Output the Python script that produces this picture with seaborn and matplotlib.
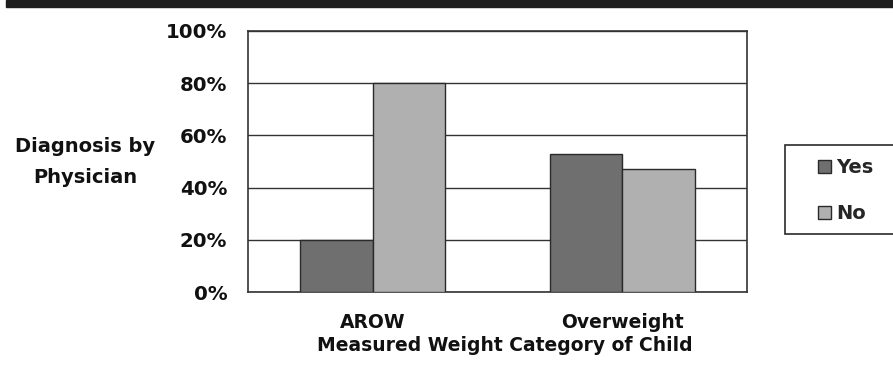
import matplotlib
matplotlib.use("Agg")
import matplotlib.pyplot as plt
import matplotlib.patches as mpatches
from matplotlib.ticker import PercentFormatter
import seaborn as sns
import pandas as pd

# data
categories = ["AROW", "Overweight"]
yes_values = [20, 53]
no_values = [80, 47]
series_names = ["Yes", "No"]

df = pd.DataFrame({
    "category": categories * 2,
    "answer": [series_names[0]] * 2 + [series_names[1]] * 2,
    "value": yes_values + no_values,
})

sns.set_style("white")
plt.rcParams["font.family"] = ["DejaVu Sans"]
plt.rcParams["font.weight"] = "bold"

fig = plt.figure(figsize=(8.93, 3.66), dpi=100)
W, H = 893, 366
ax = fig.add_axes([248 / W, 1 - 292 / H, (747 - 248) / W, (292 - 31) / H])

# black rule across the top of the page
fig.patches.append(mpatches.Rectangle((6 / W, 1 - 7 / H), 1, 7 / H,
                                      transform=fig.transFigure,
                                      color="#1e1e1e", zorder=5))

sns.barplot(data=df, x="category", y="value", hue="answer", ax=ax,
            palette=["#6f6f6f", "#b0b0b0"], width=0.58, gap=0,
            edgecolor="#2a2a2a", linewidth=1.0, saturation=1, zorder=3,
            legend=False)

ax.set_ylim(0, 100)
ax.set_xlim(-0.5, 1.5)
ax.set_yticks(range(0, 101, 20))
ax.yaxis.set_major_formatter(PercentFormatter(decimals=0))
ax.yaxis.grid(True, color="#333333", linewidth=1.0, zorder=0)
ax.set_axisbelow(True)

for s in ax.spines.values():
    s.set_color("#333333")
    s.set_linewidth(1.2)

ax.tick_params(axis="y", which="major", direction="out", length=6,
               color="#333333", labelsize=14.2, pad=9, labelcolor="#111111")
ax.set_xticks([0, 1])
ax.set_xticks([-0.5, 0.5, 1.5], minor=True)
ax.tick_params(axis="x", which="major", length=0, labelsize=13.5, pad=15,
               labelcolor="#111111")
ax.tick_params(axis="x", which="minor", direction="out", length=6,
               color="#333333")

ax.set_xlabel("Measured Weight Category of Child", fontsize=13.5,
              color="#111111", labelpad=3, fontweight="bold")
ax.xaxis.label.set_x((505 - 248) / (747 - 248))
ax.set_ylabel("")
fig.text(85 / W, 1 - 162 / H, "Diagnosis by\nPhysician", ha="center",
         va="center", fontsize=14, linespacing=1.85, color="#111111")

# legend with its own frame running off the right edge
fig.patches.append(mpatches.Rectangle((785 / W, 1 - 234 / H), 0.2, 89 / H,
                                      transform=fig.transFigure,
                                      facecolor="white", edgecolor="#2a2a2a",
                                      linewidth=1.2, zorder=2))
handles = [mpatches.Patch(facecolor=c, edgecolor="#2a2a2a", label=n)
           for c, n in zip(["#6f6f6f", "#b0b0b0"], series_names)]
leg = fig.legend(handles=handles, loc="upper left",
                 bbox_to_anchor=(818 / W, 1 - 158 / H), frameon=False,
                 borderpad=0, borderaxespad=0,
                 handlelength=0.65, handleheight=0.65, handletextpad=0.3,
                 labelspacing=1.4, prop={"size": 14, "weight": "bold"})
leg.set_zorder(6)

fig.savefig("out.png", dpi=100, facecolor="white")
